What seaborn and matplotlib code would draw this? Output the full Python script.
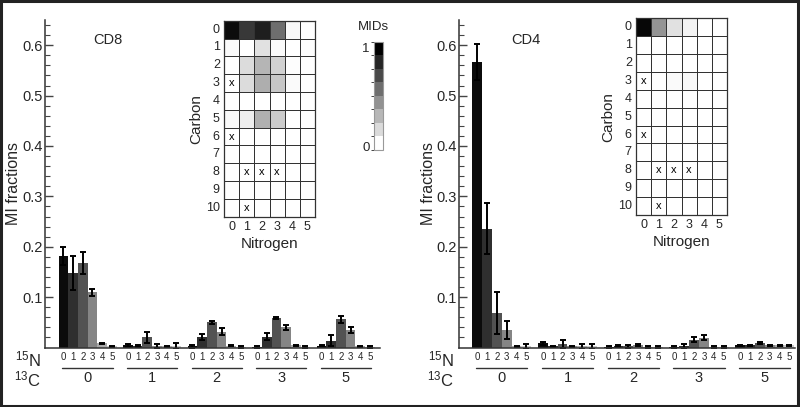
import numpy as np
import pandas as pd
import matplotlib.pyplot as plt
import seaborn as sns
from matplotlib.colors import BoundaryNorm
from matplotlib.cm import ScalarMappable
from matplotlib.patches import Rectangle

sns.set_style('ticks')
plt.rcParams['font.family'] = ['Liberation Sans', 'DejaVu Sans']
plt.rcParams['mathtext.fontset'] = 'custom'
plt.rcParams['mathtext.rm'] = 'Liberation Sans'

carbon = ['0', '1', '2', '3', '5']
nitrogen = ['0', '1', '2', '3', '4', '5']
heat_rows = [str(i) for i in range(11)]
bar_grays = ['#0b0b0b', '#2f2f2f', '#525252', '#858585', '#a9a9a9', '#c9c9c9']

# MI fractions, one row per 13C label, one column per 15N label
cd8_vals = [[0.181, 0.148, 0.167, 0.110, 0.008, 0.002],
            [0.004, 0.003, 0.020, 0.003, 0.002, 0.003],
            [0.002, 0.021, 0.050, 0.031, 0.003, 0.001],
            [0.001, 0.021, 0.058, 0.040, 0.004, 0.001],
            [0.003, 0.013, 0.056, 0.035, 0.002, 0.001]]
cd8_err = [[0.018, 0.034, 0.022, 0.007, 0.001, 0.001],
           [0.003, 0.002, 0.011, 0.004, 0.001, 0.005],
           [0.002, 0.006, 0.003, 0.007, 0.001, 0.001],
           [0.001, 0.007, 0.002, 0.005, 0.001, 0.001],
           [0.001, 0.011, 0.007, 0.006, 0.001, 0.001]]
cd4_vals = [[0.566, 0.236, 0.068, 0.034, 0.002, 0.002],
            [0.008, 0.002, 0.007, 0.002, 0.002, 0.002],
            [0.001, 0.003, 0.002, 0.005, 0.001, 0.001],
            [0.001, 0.002, 0.015, 0.019, 0.001, 0.001],
            [0.004, 0.004, 0.009, 0.004, 0.004, 0.004]]
cd4_err = [[0.036, 0.050, 0.042, 0.018, 0.001, 0.004],
           [0.003, 0.001, 0.008, 0.001, 0.004, 0.004],
           [0.001, 0.002, 0.003, 0.002, 0.001, 0.001],
           [0.001, 0.004, 0.005, 0.005, 0.001, 0.001],
           [0.001, 0.001, 0.002, 0.001, 0.001, 0.001]]

# MID heatmaps (rows = carbon 0..10, cols = nitrogen 0..5)
cd8_mid = [[0.95, 0.78, 0.88, 0.57, 0.03, 0.0],
           [0.02, 0.0, 0.12, 0.02, 0.0, 0.01],
           [0.0, 0.14, 0.29, 0.18, 0.01, 0.0],
           [0.0, 0.14, 0.32, 0.22, 0.02, 0.0],
           [0.0, 0.0, 0.0, 0.0, 0.0, 0.0],
           [0.02, 0.07, 0.31, 0.20, 0.0, 0.0],
           [0.0, 0.0, 0.0, 0.0, 0.0, 0.0],
           [0.0, 0.0, 0.0, 0.0, 0.0, 0.0],
           [0.0, 0.0, 0.0, 0.0, 0.0, 0.0],
           [0.0, 0.0, 0.0, 0.0, 0.0, 0.0],
           [0.0, 0.0, 0.0, 0.0, 0.0, 0.0]]
cd4_mid = [[0.97, 0.42, 0.12, 0.05, 0.0, 0.0],
           [0.0, 0.0, 0.0, 0.0, 0.0, 0.0],
           [0.0, 0.0, 0.0, 0.0, 0.0, 0.0],
           [0.0, 0.0, 0.02, 0.03, 0.0, 0.0],
           [0.0, 0.0, 0.0, 0.0, 0.0, 0.0],
           [0.0, 0.0, 0.0, 0.0, 0.0, 0.0],
           [0.0, 0.0, 0.0, 0.0, 0.0, 0.0],
           [0.0, 0.0, 0.0, 0.0, 0.0, 0.0],
           [0.0, 0.0, 0.0, 0.0, 0.0, 0.01],
           [0.0, 0.0, 0.0, 0.0, 0.0, 0.0],
           [0.0, 0.0, 0.0, 0.0, 0.0, 0.0]]
missing = [(3, 0), (6, 0), (8, 1), (8, 2), (8, 3), (10, 1)]

W, H = 800, 407


def px(x0, y0, x1, y1):
    # pixel box (top-left origin) -> figure fraction rect
    return [x0 / W, 1 - y1 / H, (x1 - x0) / W, (y1 - y0) / H]


def draw_bars(ax, vals, errs, title, title_x, xlim, ylab_x):
    rows = []
    for i, c in enumerate(carbon):
        for j, n in enumerate(nitrogen):
            rows.append({'carbon': c, 'nitrogen': n, 'value': vals[i][j]})
    df = pd.DataFrame(rows)
    sns.barplot(data=df, x='carbon', y='value', hue='nitrogen', order=carbon,
                hue_order=nitrogen, palette=bar_grays, width=0.9, gap=0,
                saturation=1, errorbar=None, legend=False, linewidth=0, ax=ax)
    centers = []
    for j, cont in enumerate(list(ax.containers)):
        for i, bar in enumerate(cont):
            x = bar.get_x() + bar.get_width() / 2
            ax.errorbar(x, bar.get_height(), yerr=errs[i][j], color='black',
                        capsize=2.2, elinewidth=1.4, capthick=1.4)
            centers.append(x)
    centers = sorted(centers)
    ax.set_xticks(range(len(carbon)), labels=carbon)
    ax.set_xticks(centers, labels=nitrogen * len(carbon), minor=True)
    ax.tick_params(axis='x', which='major', length=0, pad=17, labelsize=10.5)
    ax.tick_params(axis='x', which='minor', length=0, pad=3, labelsize=7)
    for g in range(len(carbon)):
        ax.plot([g - 0.39, g + 0.39], [-0.063, -0.063], color='#333333', lw=1,
                transform=ax.get_xaxis_transform(), clip_on=False)
    ax.set_xlim(*xlim)
    ax.set_ylim(0, 0.65)
    ax.set_yticks([0.1, 0.2, 0.3, 0.4, 0.5, 0.6])
    ax.set_yticks(np.arange(0.02, 0.65, 0.02), minor=True)
    ax.tick_params(axis='y', which='major', direction='in', length=5.8, width=1,
                   labelsize=10.5, pad=1.5, color='#444444')
    ax.tick_params(axis='y', which='minor', direction='in', length=3.6, width=0.8,
                   color='#444444')
    ax.set_xlabel('')
    ax.set_ylabel('MI fractions', fontsize=11.5)
    ax.yaxis.set_label_coords(ylab_x, 0.5)
    for s in ['left', 'bottom']:
        ax.spines[s].set_color('#333333')
        ax.spines[s].set_linewidth(1.1)
    sns.despine(ax=ax)
    ax.text(title_x, 0.94, title, transform=ax.transAxes, fontsize=10.5, ha='left', va='center')


def draw_heat(ax, mids):
    annot = np.full((11, 6), '', dtype=object)
    for r, c in missing:
        annot[r, c] = 'x'
    sns.heatmap(np.array(mids), ax=ax, cmap='gray_r', vmin=0, vmax=1, cbar=False,
                linewidths=0.7, linecolor='#333333', annot=annot, fmt='',
                annot_kws={'fontsize': 8, 'color': 'black'},
                xticklabels=nitrogen, yticklabels=heat_rows)
    ax.tick_params(length=0, labelsize=9, pad=3)
    ax.set_yticklabels(heat_rows, rotation=0)
    ax.set_xlabel('Nitrogen', fontsize=11, labelpad=3)
    ax.set_ylabel('Carbon', fontsize=11, labelpad=2)
    for s in ax.spines.values():
        s.set_visible(True)
        s.set_color('#333333')
        s.set_linewidth(0.9)


fig = plt.figure(figsize=(8, 4.07), dpi=100)

ax1 = fig.add_axes(px(45, 20, 380, 347.5))
draw_bars(ax1, cd8_vals, cd8_err, 'CD8', 0.143, (-0.66, 4.53), -0.072)
ax2 = fig.add_axes(px(459, 20, 795, 347.5))
draw_bars(ax2, cd4_vals, cd4_err, 'CD4', 0.155, (-0.65, 4.46), -0.068)

h1 = fig.add_axes(px(224, 20.7, 315, 216.7))
draw_heat(h1, cd8_mid)
h2 = fig.add_axes(px(636, 18.3, 727, 215))
draw_heat(h2, cd4_mid)

cax = fig.add_axes(px(374, 41.7, 383, 150))
norm = BoundaryNorm(np.linspace(0, 1, 9), 256)
cb = fig.colorbar(ScalarMappable(norm=norm, cmap='gray_r'), cax=cax, ticks=[0.03, 0.95])
cb.set_ticklabels(['0', '1'])
cax.yaxis.set_ticks_position('left')
cax.tick_params(length=0, labelsize=9.5, pad=3)
cb.outline.set_edgecolor('#999999')
cb.outline.set_linewidth(0.8)
fig.text(373 / W, 1 - 27 / H, 'MIDs', fontsize=9.5, ha='center', va='center')

for xr in [41, 454]:
    fig.text(xr / W, 1 - 359 / H, r'$\mathregular{^{15}N}$', fontsize=12, ha='right', va='center')
    fig.text(xr / W, 1 - 379 / H, r'$\mathregular{^{13}C}$', fontsize=12, ha='right', va='center')

fig.patches.append(Rectangle((0.001, 0.002), 0.997, 0.995, transform=fig.transFigure,
                             fill=False, edgecolor='#222222', linewidth=2.2))

fig.savefig('out.png', dpi=100)
